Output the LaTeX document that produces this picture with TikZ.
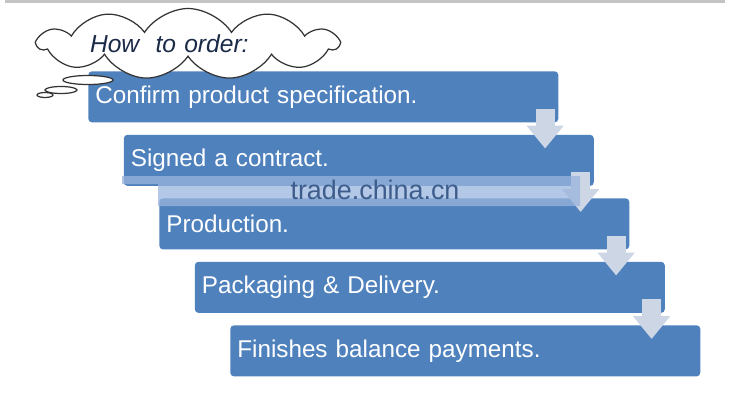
\documentclass[tikz,border=0pt]{standalone}
\usepackage{fontspec}
\setmainfont{Liberation Sans}
\usetikzlibrary{arrows.meta,calc,shapes.symbols}
\definecolor{ordblue}{HTML}{4F81BD}
\definecolor{ordarrow}{HTML}{CDD6E5}
\definecolor{ordink}{HTML}{1B2A47}
\definecolor{ordband}{HTML}{9AB4DD}
\definecolor{ordmark}{HTML}{3D5D8C}
\definecolor{ordrule}{HTML}{C4C4C4}
\tikzset{
  stepbox/.style={fill=ordblue, rounded corners=2pt, anchor=north west, minimum width=9.4cm, minimum height=1.02cm,
    inner xsep=0.14cm, text width=9.12cm, align=left, text=white, font=\fontsize{13.8}{16}\selectfont},
  flow/.style={draw=ordarrow, line width=0.38cm, -{Triangle[length=0.46cm, width=0.72cm]}},
  talk/.style={cloud, draw=black!80, fill=white, line width=0.7pt, cloud puffs=11, cloud puff arc=115,
    cloud ignores aspect, minimum width=6cm, minimum height=1.42cm, inner sep=0pt, text width=3.92cm, align=left,
    text=ordink, font=\fontsize{14}{16}\selectfont\itshape},
  puff/.style={draw=black!80, fill=white, line width=0.7pt},
  wmark/.style={text=ordmark, font=\fontsize{15.3}{18}\selectfont},
}
\begin{document}
\begin{tikzpicture}[x=0.02cm, y=-0.02cm]
  \useasboundingbox (0,0) rectangle (750,400);
  \fill[ordrule] (5,0) rectangle (725,3);
  % the five steps
  \foreach \i/\txt in {0/Confirm product specification., 1/Signed a contract., 2/Production., 3/Packaging \& Delivery., 4/Finishes balance payments.}
    \node[stepbox] (s\i) at ({88+35.5*\i},{71+63.5*\i}) {\txt};
  % arrows down to the next step
  \foreach \a/\b in {0/1,1/2,2/3,3/4}
    \draw[flow] ($(s\a.south east)+(-13.5,-14)$) -- ($(s\a.south east |- s\b.north)+(-13.5,14)$);
  % watermark band
  \fill[ordband, opacity=0.75] (122,176) -- (580,176) -- (580,206) -- (158,206) -- (158,184) -- (122,184) -- cycle;
  \node[wmark] (wm) at (375,190) {trade.china.cn};
  % heading cloud and its tail
  \node[talk] (howto) at (188,44) {How\ \ to order:};
  \draw[puff] (88,80) ellipse [x radius=25, y radius=4.5];
  \draw[puff] (61,90) ellipse [x radius=16, y radius=3.5];
  \draw[puff] (45,95) ellipse [x radius=8, y radius=2.5];
\end{tikzpicture}
\end{document}
